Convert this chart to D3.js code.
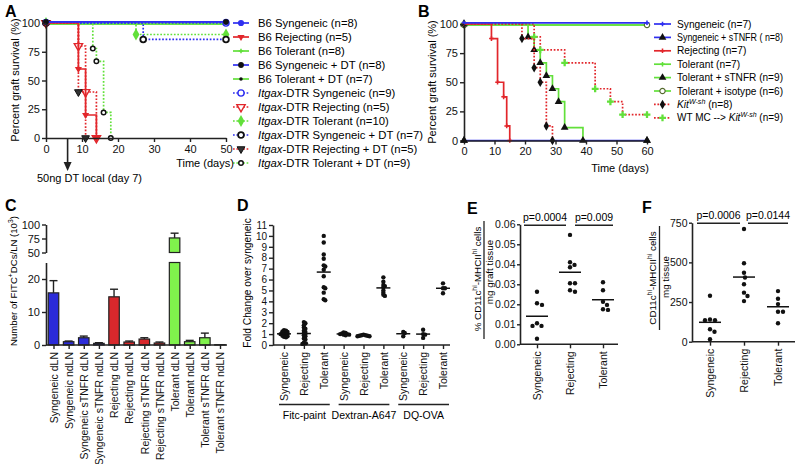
<!DOCTYPE html>
<html><head><meta charset="utf-8">
<script src="https://cdn.jsdelivr.net/npm/d3@7"></script>
<style>
body{margin:0;background:#fff;}
svg{font-family:"Liberation Sans",Arial,Helvetica,sans-serif;}
</style></head><body>
<svg id="c" width="800" height="464"></svg>
<script>
// ================= DATA =================
// Panel A : Kaplan-Meier survival, [day, % surviving]
const aB6Syngeneic    = [[0,100],[50,100]];
const aB6Rejecting    = [[0,100],[9,60],[11,20],[14,0]];
const aB6Tolerant     = [[0,100],[50,100]];
const aB6SyngeneicDT  = [[0,100],[50,100]];
const aB6TolerantDT   = [[0,100],[50,100]];
const aDtrSyngeneic   = [[0,100],[50,100]];
const aDtrRejecting   = [[0,100],[9,80],[11,40],[14,0]];
const aDtrTolerant    = [[0,100],[25,90],[50,90]];
const aDtrSyngeneicDT = [[0,100],[27,85.7],[50,85.7]];
const aDtrRejectingDT = [[0,100],[9,40],[11,0]];
const aDtrTolerantDT  = [[0,100],[13,77.8],[14,66.7],[16,22.2],[18,0]];
const aLabels = [
  "B6 Syngeneic (n=8)","B6 Rejecting (n=5)","B6 Tolerant (n=8)",
  "B6 Syngeneic + DT (n=8)","B6 Tolerant + DT (n=7)",
  "<i>Itgax</i>-DTR Syngeneic (n=9)","<i>Itgax</i>-DTR Rejecting (n=5)",
  "<i>Itgax</i>-DTR Tolerant (n=10)","<i>Itgax</i>-DTR Syngeneic + DT (n=7)",
  "<i>Itgax</i>-DTR Rejecting + DT (n=5)","<i>Itgax</i>-DTR Tolerant + DT (n=9)"
];
const aXTicks = [0,10,20,30,40,50];
const aYTicks = [0,25,50,75,100];
const aArrowDay = 6;

// Panel B
const bSyngeneic      = [[0,100],[60,100]];
const bSyngeneicTNFR  = [[0,0],[60,0]];
const bRejecting      = [[0,100],[9,87.5],[11,50],[13,37.5],[14,12.5],[15,0]];
const bTolerant       = [[0,100],[60,100]];
const bTolerantTNFR   = [[0,100],[21,88.9],[23,77.8],[25,66.7],[27,55.6],[29,44.4],[31,33.3],[33,11.1],[39,0]];
const bTolerantIso    = [[0,100],[60,100]];
const bKitWsh         = [[0,100],[19,87.5],[23,62.5],[25,50],[27,12.5],[29,0]];
const bWtMcKit        = [[0,100],[23,88.9],[25,77.8],[33,66.7],[43,44.4],[48,33.3],[52,22.2],[60,22.2]];
const bLabels = [
  "Syngeneic (n=7)","Syngeneic + sTNFR ( n=8)","Rejecting (n=7)","Tolerant (n=7)",
  "Tolerant + sTNFR (n=9)","Tolerant + isotype (n=6)",
  "<i>Kit</i><si>W-sh</si> (n=8)","WT MC --> <i>Kit</i><si>W-sh</si> (n=9)"
];
const bXTicks = [0,10,20,30,40,50,60];
const bYTicks = [0,25,50,75,100];

// Panel C : bars (x10^3)
const cCats  = ["Syngeneic dLN","Syngeneic ndLN","Syngeneic sTNFR dLN","Syngeneic sTNFR ndLN",
                "Rejecting dLN","Rejecting ndLN","Rejecting sTNFR dLN","Rejecting sTNFR ndLN",
                "Tolerant dLN","Tolerant ndLN","Tolerant sTNFR dLN","Tolerant sTNFR ndLN"];
const cMeans = [15.8,1.0,2.2,0.5,14.6,0.9,1.8,0.6,76,1.0,2.2,0.1];
const cSEM   = [3.7,0.2,0.5,0.2,2.3,0.3,0.4,0.3,8.5,0.4,1.4,0];
const cLowTicks  = [0,10,20];
const cHighTicks = [50,75,100];

// Panel D : fold change
const dCats   = ["Syngeneic","Rejecting","Tolerant"];
const dGroups = ["Fitc-paint","Dextran-A647","DQ-OVA"];
const dFitcSyn = [1.35,1.3,1.25,1.2,1.15,1.1,1.05,1.0,1.0,0.95,0.9,0.85,0.8,0.75,0.7];
const dFitcRej = [2.1,2.0,1.8,1.6,1.5,1.3,1.2,1.1,1.0,0.9,0.8,0.6,0.5,0.2,0.15,0.1];
const dFitcTol = [10.0,9.4,8.3,7.9,7.3,7.2,6.9,6.3,5.3,5.2,4.8,4.2,4.1];
const dDexSyn  = [1.15,1.1,1.05,1.0,1.0,0.95,0.95,0.9];
const dDexRej  = [0.95,0.9,0.9,0.85,0.85,0.8,0.8];
const dDexTol  = [6.2,5.8,5.5,5.4,5.3,5.0,4.8,4.6,4.5];
const dOvaSyn  = [1.2,1.1,0.8];
const dOvaRej  = [1.4,1.0,0.95,0.65];
const dOvaTol  = [5.65,5.2,5.2,4.75];
const dYTicks  = [0,1,2,3,4,5,6,7,8,9,10,11];

// Panel E
const eCats = ["Syngeneic","Rejecting","Tolerant"];
const eSyn = [0.0263,0.0197,0.0205,0.0105,0.0092,0.0092,0.0028];
const eRej = [0.0547,0.041,0.0385,0.0397,0.0305,0.0305,0.0263,0.027];
const eTol = [0.031,0.027,0.0197,0.0213,0.0172,0.0175];
const eYTicks = [0,0.01,0.02,0.03,0.04,0.05,0.06];
const ePvals = ["p=0.0004","p=0.009"];

// Panel F
const fCats = ["Syngeneic","Rejecting","Tolerant"];
const fSyn = [290,140,135,135,78,63,15];
const fRej = [710,494,435,405,362,309,288,256];
const fTol = [319,271,237,189,189,116];
const fYTicks = [0,250,500,750];
const fPvals = ["p=0.0006","p=0.0144"];

// ================= STYLE =================
const BLUE="#2f2ff0", RED="#e2262b", GREEN="#62e03a", BLACK="#111";
const BAR = {Syngeneic:"#2b2bd8", Rejecting:"#d8282c", Tolerant:"#80f24c"};
const FS = 10.5;
const AX = "#222";
const svg = d3.select("#c");
svg.append("rect").attr("width",800).attr("height",464).attr("fill","#fff");

function rich(sel, str, size, initDy){
  const re=/<(i|si|s)>(.*?)<\/\1>/g; let last=0,m,segs=[];
  while((m=re.exec(str))){ if(m.index>last) segs.push({t:str.slice(last,m.index),k:""}); segs.push({t:m[2],k:m[1]}); last=re.lastIndex; }
  if(last<str.length) segs.push({t:str.slice(last),k:""});
  let shift=-(initDy||0);
  segs.forEach(s=>{
    const sup = s.k==="s"||s.k==="si";
    const tgt = sup? -0.42*size : 0;
    const ts = sel.append("tspan").text(s.t).attr("dy",(tgt-shift).toFixed(2));
    shift=tgt;
    if(sup) ts.attr("font-size",size*0.7);
    if(s.k==="i"||s.k==="si") ts.attr("font-style","italic");
  });
}
function styleAxis(g,fs){
  g.attr("font-family",null).attr("font-size",fs||FS);
  g.selectAll(".domain").attr("stroke",AX).attr("stroke-width",1.6);
  g.selectAll(".tick line").attr("stroke",AX).attr("stroke-width",1.4);
  g.selectAll(".tick text").attr("fill","#111");
}
function marker(g,type,x,y,o){
  const types={circle:d3.symbolCircle,tri:d3.symbolTriangle,tridown:d3.symbolTriangle,diamond:d3.symbolDiamond,plus:d3.symbolCross};
  g.append("path").attr("d",d3.symbol(types[type],o.size||26)())
   .attr("transform",`translate(${x},${y})`+(type==="tridown"?" rotate(180)":""))
   .attr("fill",o.fill||"none").attr("stroke",o.stroke||"none").attr("stroke-width",o.sw||1);
}
function letter(t,x,y){ svg.append("text").attr("x",x).attr("y",y).attr("font-size",16).attr("font-weight","bold").text(t); }
function yLabel(str,x,y,size){
  const s=size||FS;
  const t=svg.append("text").attr("transform",`translate(${x},${y}) rotate(-90)`).attr("text-anchor","middle").attr("font-size",s);
  rich(t,str,s,0.35*s);
  return t;
}
function survival(series, order, x, y){
  const line=d3.line().x(d=>x(d[0])).y(d=>y(d[1])).curve(d3.curveStepAfter);
  order.forEach(i=>{
    const s=series[i];
    const g=svg.append("g").attr("transform",`translate(0,${s.nudge||0})`);
    g.append("path").attr("d",line(s.data)).attr("fill","none").attr("stroke",s.color)
      .attr("stroke-width",1.7).attr("stroke-dasharray",s.dash?"1.7,1.7":null);
    s.data.forEach(d=>marker(g,s.mk,x(d[0]),y(d[1]),s.m));
  });
}
function legend(series, labels, y0, dy, lx1, lx2, tx, fs, maxW){
  series.forEach((s,i)=>{
    const y=y0+dy*i;
    svg.append("line").attr("x1",lx1).attr("x2",lx2).attr("y1",y).attr("y2",y).attr("stroke",s.color)
      .attr("stroke-width",1.7).attr("stroke-dasharray",s.dash?"1.7,1.7":null);
    marker(svg,s.mk,(lx1+lx2)/2,y,s.m);
    const t=svg.append("text").attr("x",tx).attr("y",y).attr("font-size",fs);
    rich(t,labels[i],fs,0.35*fs);
    if(maxW && t.node().getComputedTextLength()>maxW) t.attr("textLength",maxW).attr("lengthAdjust","spacingAndGlyphs");
  });
}

// ================= PANEL A =================
{
  const x=d3.scaleLinear([0,50],[46,226]), y=d3.scaleLinear([0,100],[138,23]);
  const series=[
    {data:aB6Syngeneic,color:BLUE,mk:"circle",m:{fill:BLUE,size:30},nudge:-1.2},
    {data:aB6Rejecting,color:RED,mk:"tridown",m:{fill:RED,size:22}},
    {data:aB6Tolerant,color:GREEN,mk:"plus",m:{fill:GREEN,size:12},nudge:1},
    {data:aB6SyngeneicDT,color:BLUE,mk:"circle",m:{fill:BLACK,size:26},nudge:-1.2},
    {data:aB6TolerantDT,color:GREEN,mk:"circle",m:{fill:BLACK,size:10},nudge:1},
    {data:aDtrSyngeneic,color:BLUE,dash:true,mk:"circle",m:{fill:"#fff",stroke:BLUE,sw:1.4,size:30}},
    {data:aDtrRejecting,color:RED,dash:true,mk:"tridown",m:{fill:"#fff",stroke:RED,sw:1.4,size:30}},
    {data:aDtrTolerant,color:GREEN,dash:true,mk:"diamond",m:{fill:GREEN,size:40}},
    {data:aDtrSyngeneicDT,color:BLUE,dash:true,mk:"circle",m:{fill:"#fff",stroke:BLACK,sw:1.8,size:26}},
    {data:aDtrRejectingDT,color:RED,dash:true,mk:"tridown",m:{fill:"#333",stroke:BLACK,sw:1,size:26}},
    {data:aDtrTolerantDT,color:GREEN,dash:true,mk:"circle",m:{fill:"#fff",stroke:BLACK,sw:1.5,size:16}}
  ];
  survival(series,[2,4,7,10,5,8,6,9,1,0,3],x,y);
  const gx=svg.append("g").attr("transform",`translate(0,${y(0)})`).call(d3.axisBottom(x).tickValues(aXTicks).tickSize(4).tickSizeOuter(0).tickPadding(3));
  const gy=svg.append("g").attr("transform",`translate(${x(0)},0)`).call(d3.axisLeft(y).tickValues(aYTicks).tickSize(4).tickSizeOuter(0).tickPadding(2));
  styleAxis(gx,11); styleAxis(gy,11);
  legend(series,aLabels,23,14,233,249,258,11.3);
  yLabel("Percent graft survival (%)",15,80,11);
  svg.append("text").attr("x",205).attr("y",167).attr("text-anchor","middle").attr("font-size",11).text("Time (days)");
  const ax=x(aArrowDay);
  svg.append("line").attr("x1",ax).attr("x2",ax).attr("y1",y(0)).attr("y2",164).attr("stroke",AX).attr("stroke-width",1.6);
  svg.append("path").attr("d",`M${ax-4},162 L${ax+4},162 L${ax},171 Z`).attr("fill",AX);
  svg.append("text").attr("x",37).attr("y",182).attr("font-size",11).text("50ng DT local (day 7)");
  letter("A",5,17);
}

// ================= PANEL B =================
{
  const x=d3.scaleLinear([0,60],[464,647]), y=d3.scaleLinear([0,100],[140.5,24]);
  const series=[
    {data:bSyngeneic,color:BLUE,mk:"plus",m:{fill:BLUE,size:12},nudge:-1.2},
    {data:bSyngeneicTNFR,color:BLUE,mk:"tri",m:{fill:BLACK,size:26}},
    {data:bRejecting,color:RED,mk:"plus",m:{fill:RED,size:12}},
    {data:bTolerant,color:GREEN,mk:"plus",m:{fill:GREEN,size:12},nudge:1},
    {data:bTolerantTNFR,color:GREEN,mk:"tri",m:{fill:BLACK,size:26}},
    {data:bTolerantIso,color:GREEN,mk:"circle",m:{fill:"#fff",stroke:"#556b2f",sw:1.2,size:22},nudge:1},
    {data:bKitWsh,color:RED,dash:true,mk:"diamond",m:{fill:BLACK,size:26}},
    {data:bWtMcKit,color:RED,dash:true,mk:"plus",m:{fill:GREEN,size:26}}
  ];
  survival(series,[3,5,1,4,7,6,2,0],x,y);
  const gx=svg.append("g").attr("transform",`translate(0,${y(0)})`).call(d3.axisBottom(x).tickValues(bXTicks).tickSize(4).tickSizeOuter(0).tickPadding(3));
  const gy=svg.append("g").attr("transform",`translate(${x(0)},0)`).call(d3.axisLeft(y).tickValues(bYTicks).tickSize(4).tickSizeOuter(0).tickPadding(2));
  styleAxis(gx,11); styleAxis(gy,11);
  bSyngeneicTNFR.forEach(d=>marker(svg,"tri",x(d[0]),y(d[1]),{fill:BLACK,size:26}));
  legend(series,bLabels,24,13.4,654,671,677,10.2,106);
  yLabel("Percent graft survival (%)",432,82,11);
  svg.append("text").attr("x",620).attr("y",172).attr("text-anchor","middle").attr("font-size",11).text("Time (days)");
  letter("B",418,17);
}

function dots(values, xc, y, r, half, minD){
  const placed=[];
  values.map(v=>({v,y:y(v)})).sort((a,b)=>a.y-b.y).forEach(p=>{
    for(let k=0;k<400;k++){
      const off=(k%2?1:-1)*Math.ceil(k/2)*0.5;
      const px=xc+off;
      if(placed.every(q=>(q.x-px)**2+(q.y-p.y)**2>=minD*minD)){ placed.push({x:px,y:p.y}); break; }
    }
  });
  placed.forEach(p=>svg.append("circle").attr("cx",p.x).attr("cy",p.y).attr("r",r).attr("fill","#111"));
  const m=d3.mean(values);
  svg.append("line").attr("x1",xc-half).attr("x2",xc+half).attr("y1",y(m)).attr("y2",y(m)).attr("stroke","#111").attr("stroke-width",1.5);
}
function catAxis(x,yy,x1,x2){
  svg.append("line").attr("x1",x1).attr("x2",x2).attr("y1",yy).attr("y2",yy).attr("stroke",AX).attr("stroke-width",1.6);
  const gx=svg.append("g").attr("transform",`translate(0,${yy})`).call(d3.axisBottom(x).tickSize(4).tickSizeOuter(0));
  styleAxis(gx); gx.select(".domain").remove();
  gx.selectAll(".tick text").attr("transform","rotate(-90)").attr("x",-7).attr("y",0).attr("dy","0.35em").attr("text-anchor","end");
  return gx;
}

// ================= PANEL C =================
{
  const x=d3.scalePoint(cCats,[53.5,220]);
  const yLo=d3.scaleLinear([0,25],[345,262.5]), yHi=d3.scaleLinear([50,100],[252.5,224.5]);
  const bw=10.5;
  cCats.forEach((c,i)=>{
    const v=cMeans[i], col=BAR[c.split(" ")[0]], cx=x(c);
    const top=v+cSEM[i];
    const ys = top>25? yHi(top) : yLo(top);
    const yv = v>25? yHi(v) : yLo(v);
    if(cSEM[i]>0){
      svg.append("line").attr("x1",cx).attr("x2",cx).attr("y1",yv).attr("y2",ys).attr("stroke",AX).attr("stroke-width",1.4);
      svg.append("line").attr("x1",cx-4).attr("x2",cx+4).attr("y1",ys).attr("y2",ys).attr("stroke",AX).attr("stroke-width",1.4);
    }
    if(v>25){
      svg.append("rect").attr("x",cx-bw/2).attr("width",bw).attr("y",yLo(25)).attr("height",yLo(0)-yLo(25)).attr("fill",col).attr("stroke",AX).attr("stroke-width",1.2);
      svg.append("rect").attr("x",cx-bw/2).attr("width",bw).attr("y",yHi(v)).attr("height",yHi(50)-yHi(v)).attr("fill",col).attr("stroke",AX).attr("stroke-width",1.2);
    } else {
      svg.append("rect").attr("x",cx-bw/2).attr("width",bw).attr("y",yLo(v)).attr("height",Math.max(0,yLo(0)-yLo(v))).attr("fill",col).attr("stroke",AX).attr("stroke-width",1.2);
    }
  });
  const g1=svg.append("g").attr("transform","translate(46,0)").call(d3.axisLeft(yLo).tickValues(cLowTicks).tickSize(4).tickSizeOuter(0).tickPadding(2));
  const g2=svg.append("g").attr("transform","translate(46,0)").call(d3.axisLeft(yHi).tickValues(cHighTicks).tickSize(4).tickSizeOuter(0).tickPadding(2));
  styleAxis(g1,11); styleAxis(g2,11);
  catAxis(x,yLo(0),46,227);
  yLabel("Number of FITC<s>+</s>DCs/LN (10<s>3</s>)",13.5,281,9.6);
  letter("C",5,211);
}

// ================= PANEL D =================
{
  const keys=[]; dGroups.forEach(g=>dCats.forEach(c=>keys.push(g+"|"+c)));
  const vals=[dFitcSyn,dFitcRej,dFitcTol,dDexSyn,dDexRej,dDexTol,dOvaSyn,dOvaRej,dOvaTol];
  const x=d3.scalePoint(keys,[284,443]), y=d3.scaleLinear([0,11],[345,225]);
  const gy=svg.append("g").attr("transform","translate(273,0)").call(d3.axisLeft(y).tickValues(dYTicks).tickSize(4).tickSizeOuter(0).tickPadding(2));
  styleAxis(gy,10);
  const gx=catAxis(x,y(0),273,450);
  gx.selectAll(".tick text").text(k=>k.split("|")[1]);
  keys.forEach((k,i)=>dots(vals[i],x(k),y,2.2,7,1.8));
  dGroups.forEach((g,gi)=>{
    const x1=x(keys[gi*3])-5, x2=x(keys[gi*3+2])+6;
    svg.append("line").attr("x1",x1).attr("x2",x2).attr("y1",404.5).attr("y2",404.5).attr("stroke",AX).attr("stroke-width",1.4);
    svg.append("text").attr("x",(x1+x2)/2).attr("y",419).attr("text-anchor","middle").attr("font-size",FS).text(g);
  });
  yLabel("Fold Change over syngeneic",247,283,10.2);
  letter("D",237,211);
}

// ================= PANEL E =================
{
  const x=d3.scalePoint(eCats,[537,603]), y=d3.scaleLinear([0,0.06],[344.3,224.3]);
  const gy=svg.append("g").attr("transform","translate(520,0)").call(d3.axisLeft(y).tickValues(eYTicks).tickFormat(d3.format(".2f")).tickSize(3).tickSizeOuter(0).tickPadding(1.5));
  styleAxis(gy);
  catAxis(x,y(0),520,618);
  [eSyn,eRej,eTol].forEach((v,i)=>dots(v,x(eCats[i]),y,2.2,11,4.8));
  const spans=[[x(eCats[0])-13,x(eCats[1])-4],[x(eCats[1])+5,x(eCats[2])+10]];
  spans.forEach((s,i)=>{
    const yy=y(0.06)+1;
    svg.append("line").attr("x1",s[0]).attr("x2",s[1]).attr("y1",yy).attr("y2",yy).attr("stroke",AX).attr("stroke-width",1.4);
    svg.append("text").attr("x",(s[0]+s[1])/2).attr("y",yy-4).attr("text-anchor","middle").attr("font-size",FS).text(ePvals[i]);
  });
  yLabel("% CD11c<s>hi</s>-MHCII<s>hi</s> cells",478,279,9.8);
  svg.append("line").attr("x1",484).attr("x2",484).attr("y1",221).attr("y2",339).attr("stroke",AX).attr("stroke-width",1.3);
  yLabel("mg graft tissue",490,272,9.8);
  letter("E",467,214);
}

// ================= PANEL F =================
{
  const x=d3.scalePoint(fCats,[710,778]), y=d3.scaleLinear([0,750],[341.7,222.7]);
  const gy=svg.append("g").attr("transform","translate(692,0)").call(d3.axisLeft(y).tickValues(fYTicks).tickSize(3).tickSizeOuter(0).tickPadding(1.5));
  styleAxis(gy);
  catAxis(x,y(0),692,795);
  [fSyn,fRej,fTol].forEach((v,i)=>dots(v,x(fCats[i]),y,2.2,11,4.8));
  const spans=[[x(fCats[0])-13,x(fCats[1])-4],[x(fCats[1])+4,x(fCats[2])+10]];
  spans.forEach((s,i)=>{
    const yy=y(750)+0.5;
    svg.append("line").attr("x1",s[0]).attr("x2",s[1]).attr("y1",yy).attr("y2",yy).attr("stroke",AX).attr("stroke-width",1.4);
    svg.append("text").attr("x",(s[0]+s[1])/2).attr("y",yy-4).attr("text-anchor","middle").attr("font-size",FS).text(fPvals[i]);
  });
  yLabel("CD11c<s>hi</s>-MHCII<s>hi</s> cells",653,278,9.8);
  svg.append("line").attr("x1",659.5).attr("x2",659.5).attr("y1",226).attr("y2",330).attr("stroke",AX).attr("stroke-width",1.3);
  yLabel("mg tissue",665.5,277,9.8);
  letter("F",642,213);
}
</script>
</body></html>
